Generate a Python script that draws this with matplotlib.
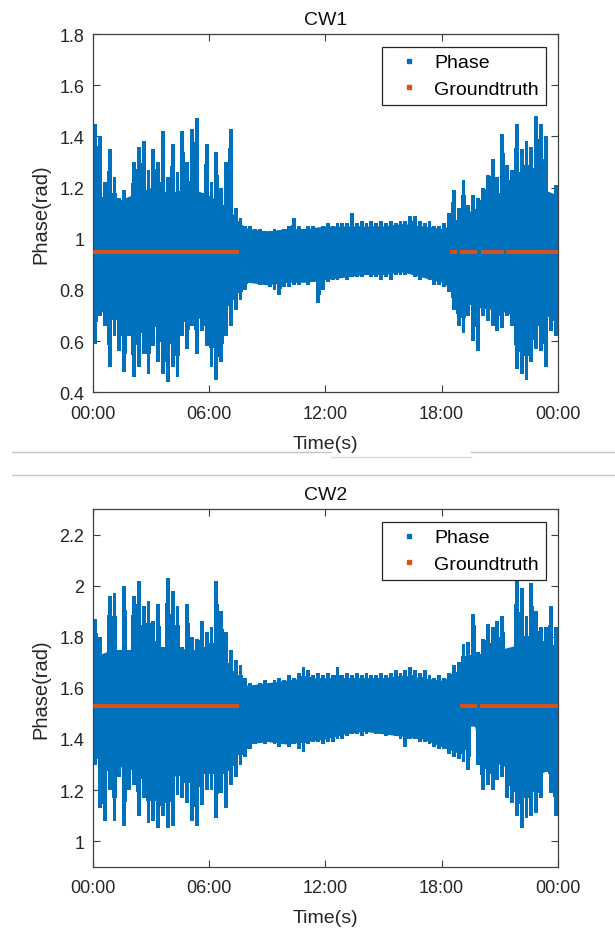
import numpy as np
import matplotlib
matplotlib.use('Agg')
import matplotlib.pyplot as plt
from matplotlib.lines import Line2D

plt.rcParams['font.family'] = ['Liberation Sans', 'DejaVu Sans']

# ---------------- data ----------------
BIN_H = 0.25  # envelope read every quarter hour, 0..24 h

cw1_hi = [1.45, 1.40, 1.22, 1.35, 1.24, 1.16, 1.19, 1.14,
          1.30, 1.36, 1.38, 1.27, 1.35, 1.30, 1.42, 1.24,
          1.37, 1.26, 1.42, 1.30, 1.43, 1.47, 1.18, 1.37,
          1.22, 1.34, 1.20, 1.30, 1.43, 1.12, 1.08, 1.05,
          1.05, 1.04, 1.04, 1.03, 1.03, 1.04, 1.03, 1.04,
          1.05, 1.08, 1.05, 1.04, 1.05, 1.05, 1.04, 1.05,
          1.06, 1.05, 1.06, 1.06, 1.06, 1.10, 1.06, 1.07,
          1.06, 1.07, 1.06, 1.07, 1.06, 1.07, 1.06, 1.07,
          1.07, 1.09, 1.09, 1.07, 1.06, 1.07, 1.05, 1.05,
          1.06, 1.10, 1.19, 1.12, 1.23, 1.13, 1.17, 1.16,
          1.20, 1.25, 1.31, 1.24, 1.41, 1.29, 1.27, 1.45,
          1.35, 1.38, 1.36, 1.48, 1.45, 1.40, 1.17, 1.21]
cw1_lo = [0.59, 0.70, 0.66, 0.50, 0.62, 0.56, 0.48, 0.62,
          0.46, 0.50, 0.55, 0.47, 0.58, 0.52, 0.47, 0.44,
          0.50, 0.46, 0.62, 0.57, 0.66, 0.55, 0.64, 0.58,
          0.50, 0.45, 0.52, 0.62, 0.66, 0.72, 0.76, 0.80,
          0.83, 0.83, 0.82, 0.82, 0.81, 0.80, 0.78, 0.81,
          0.81, 0.82, 0.82, 0.83, 0.82, 0.83, 0.75, 0.80,
          0.83, 0.84, 0.84, 0.85, 0.84, 0.85, 0.85, 0.85,
          0.86, 0.85, 0.85, 0.84, 0.85, 0.84, 0.86, 0.86,
          0.86, 0.87, 0.85, 0.84, 0.85, 0.84, 0.82, 0.82,
          0.81, 0.79, 0.72, 0.66, 0.63, 0.70, 0.60, 0.56,
          0.70, 0.68, 0.66, 0.64, 0.65, 0.70, 0.66, 0.49,
          0.47, 0.45, 0.52, 0.57, 0.56, 0.50, 0.64, 0.62]
cw1_core_t = [0, 1, 2, 3, 4, 5, 6, 7, 7.6, 8, 9, 10, 11, 12, 13, 14, 15,
              16, 17, 18, 18.4, 19, 20, 21, 22, 23, 24]
cw1_core_hi = [1.18, 1.14, 1.17, 1.20, 1.18, 1.20, 1.17, 1.12, 1.06, 1.04,
               1.03, 1.04, 1.04, 1.05, 1.05, 1.05, 1.05, 1.06, 1.05, 1.04,
               1.05, 1.09, 1.13, 1.17, 1.19, 1.20, 1.17]
cw1_core_lo = [0.70, 0.73, 0.70, 0.68, 0.67, 0.68, 0.70, 0.74, 0.80, 0.83,
               0.82, 0.83, 0.83, 0.84, 0.85, 0.86, 0.86, 0.87, 0.85, 0.83,
               0.81, 0.76, 0.73, 0.72, 0.69, 0.69, 0.71]
cw1_truth = 0.948
cw1_truth_segs = [(0.0, 7.56), (18.43, 18.80), (18.95, 19.84),
                  (20.01, 21.21), (21.31, 24.0)]

cw2_hi = [1.87, 1.80, 1.72, 1.96, 1.97, 1.75, 2.00, 1.70,
          1.96, 2.02, 1.92, 1.94, 1.86, 1.93, 1.76, 2.03,
          1.98, 1.92, 1.76, 1.93, 1.80, 1.79, 1.86, 1.82,
          1.84, 2.02, 1.90, 1.82, 1.75, 1.71, 1.69, 1.64,
          1.62, 1.61, 1.62, 1.63, 1.62, 1.63, 1.64, 1.63,
          1.65, 1.64, 1.66, 1.68, 1.67, 1.65, 1.66, 1.65,
          1.66, 1.65, 1.68, 1.65, 1.66, 1.65, 1.66, 1.65,
          1.66, 1.65, 1.65, 1.66, 1.65, 1.66, 1.67, 1.66,
          1.67, 1.68, 1.67, 1.66, 1.67, 1.65, 1.64, 1.65,
          1.64, 1.66, 1.69, 1.70, 1.77, 1.78, 1.89, 1.74,
          1.79, 1.85, 1.84, 1.86, 1.88, 1.64, 1.71, 2.02,
          1.99, 1.88, 2.01, 1.90, 1.84, 1.84, 1.92, 1.84]
cw2_lo = [1.30, 1.13, 1.08, 1.20, 1.08, 1.25, 1.06, 1.20,
          1.22, 1.10, 1.17, 1.07, 1.08, 1.05, 1.10, 1.05,
          1.06, 1.18, 1.17, 1.15, 1.08, 1.06, 1.14, 1.20,
          1.20, 1.09, 1.19, 1.13, 1.22, 1.25, 1.30, 1.33,
          1.36, 1.38, 1.39, 1.38, 1.39, 1.38, 1.37, 1.38,
          1.37, 1.38, 1.36, 1.35, 1.38, 1.39, 1.39, 1.38,
          1.39, 1.39, 1.40, 1.40, 1.41, 1.42, 1.42, 1.41,
          1.42, 1.43, 1.42, 1.42, 1.41, 1.42, 1.41, 1.40,
          1.37, 1.40, 1.40, 1.39, 1.39, 1.38, 1.37, 1.36,
          1.36, 1.34, 1.33, 1.32, 1.31, 1.28, 1.45, 1.30,
          1.20, 1.22, 1.20, 1.24, 1.25, 1.17, 1.15, 1.10,
          1.05, 1.09, 1.10, 1.11, 1.17, 1.27, 1.19, 1.10]
cw2_core_t = [0, 1, 2, 3, 4, 5, 6, 7, 7.6, 8, 9, 10, 11, 12, 13, 14, 15,
              16, 17, 18, 19, 19.4, 19.7, 20, 21, 22, 23, 24]
cw2_core_hi = [1.72, 1.75, 1.75, 1.75, 1.76, 1.75, 1.75, 1.68, 1.62, 1.61,
               1.62, 1.63, 1.64, 1.64, 1.64, 1.64, 1.64, 1.65, 1.64, 1.63,
               1.66, 1.68, 1.68, 1.72, 1.75, 1.77, 1.77, 1.75]
cw2_core_lo = [1.33, 1.30, 1.28, 1.25, 1.25, 1.27, 1.28, 1.33, 1.37, 1.38,
               1.39, 1.38, 1.39, 1.40, 1.42, 1.43, 1.42, 1.41, 1.40, 1.37,
               1.34, 1.45, 1.45, 1.33, 1.30, 1.27, 1.26, 1.30]
cw2_truth = 1.528
cw2_truth_segs = [(0.0, 7.56), (18.93, 19.80), (20.0, 24.0)]

titles = ['CW1', 'CW2']
ylims = [(0.4, 1.8), (0.9, 2.3)]
yticks = [[0.4, 0.6, 0.8, 1.0, 1.2, 1.4, 1.6, 1.8],
          [1.0, 1.2, 1.4, 1.6, 1.8, 2.0, 2.2]]
xtick_hours = [0, 6, 12, 18, 24]
xtick_labels = ['00:00', '06:00', '12:00', '18:00', '00:00']
legend_labels = ['Phase', 'Groundtruth']

BLUE = '#0072BD'
ORANGE = '#D95319'
AXC = '#404040'

# ---------------- figure ----------------
W, H = 615, 929
fig = plt.figure(figsize=(W / 100, H / 100), dpi=100)

def px_axes(left, top, right, bottom):
    return fig.add_axes([left / W, 1 - bottom / H, (right - left) / W, (bottom - top) / H])

axes = [px_axes(92.7, 35.0, 558.0, 393.3), px_axes(92.7, 510.0, 558.0, 867.7)]

datasets = [(cw1_hi, cw1_lo, cw1_core_t, cw1_core_hi, cw1_core_lo, cw1_truth, cw1_truth_segs),
            (cw2_hi, cw2_lo, cw2_core_t, cw2_core_hi, cw2_core_lo, cw2_truth, cw2_truth_segs)]

def fmt(v):
    s = ('%.1f' % v)
    return s[:-2] if s.endswith('.0') else s

for ax, (hi, lo, ct, chi, clo, truth, segs), title, yl, yt in zip(axes, datasets, titles, ylims, yticks):
    hi = np.array(hi)
    lo = np.array(lo)
    t_start = np.arange(len(hi)) * BIN_H
    ax.fill_between(ct, clo, chi, color=BLUE, lw=0, zorder=2)
    ax.bar(t_start + BIN_H / 2, hi - lo, bottom=lo, width=0.2, color=BLUE,
           linewidth=0, zorder=2)
    ax.bar(t_start + BIN_H / 2, (hi - lo) * 0.8, bottom=lo + (hi - lo) * 0.1,
           width=BIN_H, color=BLUE, linewidth=0, zorder=2)
    for a, b in segs:
        ax.hlines(truth, a, b, color=ORANGE, lw=2.8, zorder=3)

    ax.set_xlim(0, 24)
    ax.set_ylim(*yl)
    ax.set_xticks(xtick_hours)
    ax.set_xticklabels(xtick_labels)
    ax.set_yticks(yt)
    ax.set_yticklabels([fmt(v) for v in yt])
    ax.tick_params(direction='in', top=True, right=True, length=5, width=0.8,
                   colors=AXC, labelsize=13, labelcolor='#262626')
    ax.tick_params(axis='x', pad=9)
    ax.tick_params(axis='y', pad=6)
    for sp in ax.spines.values():
        sp.set_color(AXC)
        sp.set_linewidth(0.9)
    ax.set_title(title, fontsize=14, color='#111111', pad=7)
    ax.set_ylabel('Phase(rad)', fontsize=14.5, color='#262626')
    ax.yaxis.set_label_coords(-0.09, 0.5)
    ax.set_xlabel('Time(s)', fontsize=14, color='#262626')
    ax.xaxis.set_label_coords(0.5, -0.119)

    handles = [Line2D([], [], marker='s', ls='none', color=BLUE, markersize=2.2),
               Line2D([], [], marker='s', ls='none', color=ORANGE, markersize=2.2)]
    leg = ax.legend(handles, legend_labels, loc='upper right',
                    bbox_to_anchor=(0.974, 0.9637), borderaxespad=0,
                    fontsize=14, frameon=True, fancybox=False, borderpad=0.35,
                    labelspacing=0.45, handlelength=2.1, handletextpad=0.25)
    leg.get_frame().set_edgecolor('#262626')
    leg.get_frame().set_linewidth(0.9)
    leg.get_frame().set_alpha(1)

# page separator lines
def fig_line(x0, x1, y, color, lw=1.0):
    fig.add_artist(Line2D([x0 / W, x1 / W], [1 - y / H, 1 - y / H],
                          color=color, lw=lw, transform=fig.transFigure))

fig_line(12, 331, 453, '#c4c4c4')
fig_line(331, 471, 458, '#dcdcdc')
fig_line(471, 615, 453, '#c4c4c4')
fig_line(12, 615, 476, '#c8c8c8')

fig.savefig('out.png', dpi=100)
